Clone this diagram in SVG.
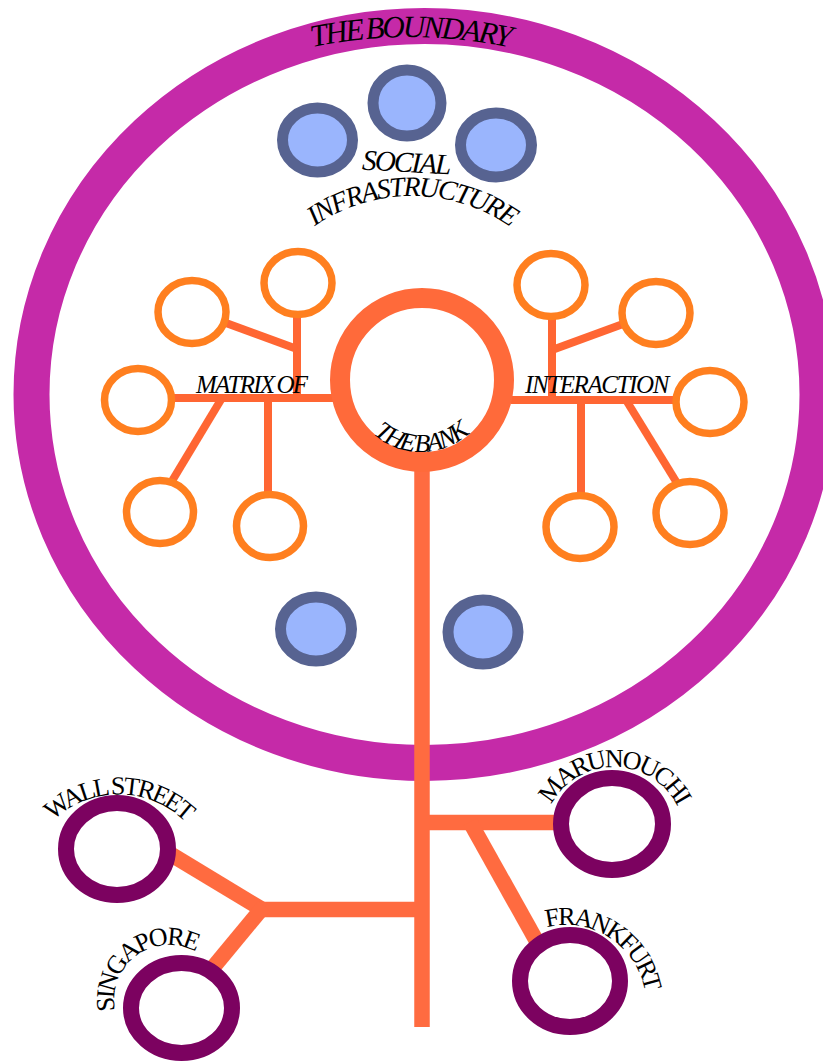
<svg xmlns="http://www.w3.org/2000/svg" width="823" height="1061" viewBox="0 0 823 1061">
<defs>
<style>
.lbl{font-family:"Liberation Serif","Times New Roman",serif;fill:#000}
.it{font-style:italic}
.hub{fill:#fff;stroke:#FF7F1F;stroke-width:7.5}
.soc{fill:#9AB5FD;stroke:#576391;stroke-width:11}
.city{fill:#fff;stroke:#7C0260;stroke-width:16}
.spoke{stroke:#FF6633;stroke-width:8;fill:none}
.trunk{stroke:#FF6B40;stroke-width:15.5;fill:none}
.cl{font-size:26px;letter-spacing:-2.6px}
</style>
<path id="pBoundary" d="M 285.8,53.4 A 480 480 0 0 1 534.2,53.4"/>
<path id="pInfra" d="M 290.4,246.4 A 172 172 0 0 1 533.6,246.4"/>
<path id="pBank" d="M 364.3,424.3 A 72 72 0 0 0 477.7,424.3"/>
<path id="pWall" d="M 51.3,822.3 A 95 95 0 0 1 185.7,822.3"/>
<path id="pSing" d="M 117.3,1018.8 A 55 55 0 0 1 196.5,952.4"/>
<path id="pMaru" d="M 547.3,813.7 A 71 71 0 0 1 680.7,813.7"/>
<path id="pFrank" d="M 538.6,929.8 A 80 80 0 0 1 645.7,998"/>
</defs>
<rect width="823" height="1061" fill="#fff"/>

<g id="boundary">
<ellipse cx="424.5" cy="394.5" rx="393" ry="368.5" fill="none" stroke="#C52AA8" stroke-width="36"/>
<text class="lbl it" font-size="31" letter-spacing="-2.4" word-spacing="-2"><textPath href="#pBoundary" startOffset="50%" text-anchor="middle">THE BOUNDARY</textPath></text>
</g>

<g id="social-infrastructure">
<ellipse class="soc" cx="317.5" cy="140" rx="35" ry="32"/>
<ellipse class="soc" cx="407" cy="103" rx="34" ry="33"/>
<ellipse class="soc" cx="496" cy="145" rx="35.5" ry="32"/>
<text class="lbl it" x="406" y="172" text-anchor="middle" font-size="29" letter-spacing="-1.8" transform="rotate(3 406 162)">SOCIAL</text>
<text class="lbl it" font-size="28" letter-spacing="-2"><textPath href="#pInfra" startOffset="50%" text-anchor="middle">INFRASTRUCTURE</textPath></text>
</g>
<g id="social-lower-left"><ellipse class="soc" cx="316" cy="629" rx="35.5" ry="32"/></g>
<g id="social-lower-right"><ellipse class="soc" cx="483" cy="632" rx="35" ry="32"/></g>

<g id="connectors">
<line class="spoke" x1="173" y1="398" x2="334" y2="398"/>
<line class="spoke" x1="297" y1="316" x2="297" y2="398"/>
<line class="spoke" x1="226" y1="323" x2="297" y2="349"/>
<line class="spoke" x1="222" y1="398" x2="172" y2="481"/>
<line class="spoke" x1="268" y1="398" x2="268" y2="493"/>
<line class="spoke" x1="511" y1="400" x2="675" y2="400"/>
<line class="spoke" x1="552" y1="318" x2="552" y2="400"/>
<line class="spoke" x1="552" y1="350" x2="623" y2="324"/>
<line class="spoke" x1="581" y1="400" x2="581" y2="496"/>
<line class="spoke" x1="626" y1="400" x2="677" y2="483"/>
<line class="trunk" x1="422" y1="468" x2="422" y2="1027"/>
<line class="trunk" x1="422" y1="822.5" x2="560" y2="822.5"/>
<line class="trunk" x1="470" y1="822" x2="536" y2="940"/>
<line class="trunk" x1="258" y1="909.5" x2="422" y2="909.5"/>
<line class="trunk" x1="172" y1="855" x2="263" y2="910"/>
<line class="trunk" x1="264" y1="906" x2="211" y2="970"/>
</g>

<g id="bank">
<circle cx="422" cy="380" r="82" fill="none" stroke="#FF6A3A" stroke-width="20"/>
<text class="lbl it" font-size="26" letter-spacing="-2" word-spacing="-2"><textPath href="#pBank" startOffset="50%" text-anchor="middle">THE BANK</textPath></text>
</g>

<g id="matrix-label"><text class="lbl it" x="196" y="393" font-size="25" letter-spacing="-1.8" word-spacing="-1">MATRIX OF</text></g>
<g id="interaction-label"><text class="lbl it" x="525" y="393" font-size="25" letter-spacing="-1.4">INTERACTION</text></g>

<g id="hub-l1"><ellipse class="hub" cx="138" cy="400" rx="33.5" ry="31.5"/></g>
<g id="hub-l2"><ellipse class="hub" cx="192" cy="312" rx="34" ry="31.5"/></g>
<g id="hub-l3"><ellipse class="hub" cx="298" cy="283" rx="34" ry="31.5"/></g>
<g id="hub-l4"><ellipse class="hub" cx="160" cy="512" rx="33.5" ry="31.5"/></g>
<g id="hub-l5"><ellipse class="hub" cx="270" cy="526" rx="33.5" ry="31.5"/></g>
<g id="hub-r1"><ellipse class="hub" cx="551" cy="285" rx="34" ry="31.5"/></g>
<g id="hub-r2"><ellipse class="hub" cx="656" cy="313" rx="34" ry="31.5"/></g>
<g id="hub-r3"><ellipse class="hub" cx="710" cy="402" rx="34" ry="31.5"/></g>
<g id="hub-r4"><ellipse class="hub" cx="580" cy="527" rx="34" ry="31.5"/></g>
<g id="hub-r5"><ellipse class="hub" cx="690" cy="513" rx="34" ry="31.5"/></g>

<g id="wall-street">
<ellipse class="city" cx="117" cy="849" rx="51" ry="46"/>
<text class="lbl cl"><textPath href="#pWall" startOffset="50%" text-anchor="middle">WALL STREET</textPath></text>
</g>
<g id="singapore">
<ellipse class="city" cx="181.5" cy="1008" rx="50.5" ry="45"/>
<text class="lbl cl"><textPath href="#pSing" startOffset="52%" text-anchor="middle">SINGAPORE</textPath></text>
</g>
<g id="marunouchi">
<ellipse class="city" cx="612" cy="824" rx="51" ry="46"/>
<text class="lbl cl"><textPath href="#pMaru" startOffset="50%" text-anchor="middle">MARUNOUCHI</textPath></text>
</g>
<g id="frankfurt">
<ellipse class="city" cx="570" cy="981" rx="50" ry="46"/>
<text class="lbl cl"><textPath href="#pFrank" startOffset="50%" text-anchor="middle">FRANKFURT</textPath></text>
</g>
</svg>
